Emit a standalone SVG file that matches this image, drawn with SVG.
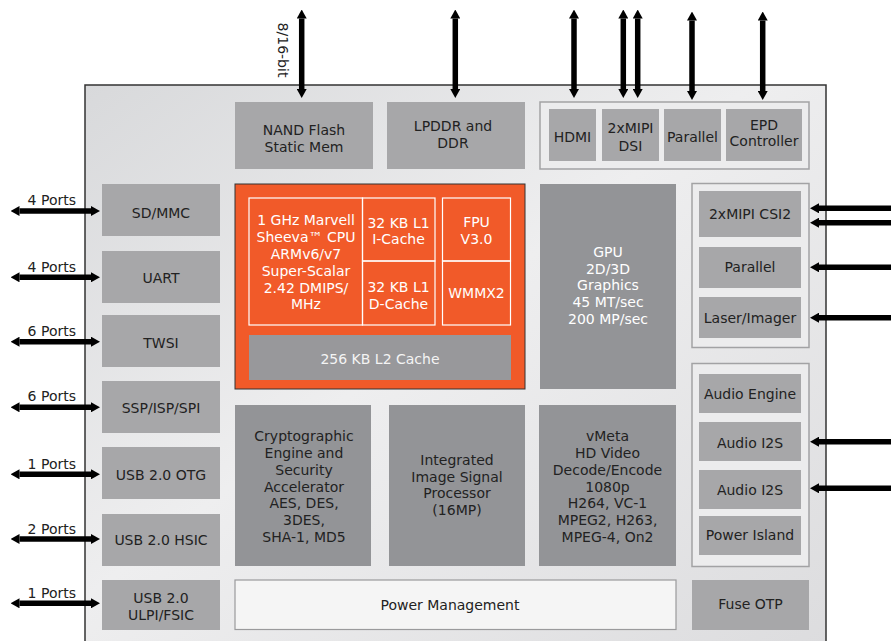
<svg xmlns="http://www.w3.org/2000/svg" width="891" height="641" viewBox="0 0 891 641">
<defs>
<linearGradient id="chipbg" x1="0" y1="0" x2="1" y2="1">
<stop offset="0" stop-color="#d8d9db"/>
<stop offset="0.45" stop-color="#eeeeef"/>
<stop offset="1" stop-color="#dcdcde"/>
</linearGradient>
<marker id="ah" viewBox="0 0 9 10" refX="0" refY="5" markerWidth="9" markerHeight="10" markerUnits="userSpaceOnUse" orient="auto-start-reverse">
<path d="M0,0 L9,5 L0,10 z" fill="#000"/>
</marker>
<style>
text{font-family:"DejaVu Sans",Verdana,sans-serif;font-size:14px;fill:#222;text-anchor:middle}
.lb{fill:#a7a7a9}
.dk{fill:#939497}
.grp{fill:#ececed;stroke:#a2a2a4;stroke-width:1.5}
.cell{fill:none;stroke:#ffffff;stroke-width:1.2}
.w{fill:#ffffff}
.lab{text-anchor:end}
.arr{stroke:#000;stroke-width:5.5;fill:none}
.a2{marker-start:url(#ah);marker-end:url(#ah)}
.a1{marker-end:url(#ah)}
</style>
</defs>
<rect width="891" height="641" fill="#ffffff"/>
<g id="chip">
<rect x="85" y="85" width="741" height="570" fill="url(#chipbg)" stroke="#333" stroke-width="1.5"/>
</g>
<g id="nand"><rect class="lb" x="235" y="102" width="138" height="67"/><text x="304" y="135">NAND Flash</text><text x="304" y="152">Static Mem</text></g>
<g id="lpddr"><rect class="lb" x="387" y="102" width="138" height="67"/><text x="453" y="131">LPDDR and</text><text x="453" y="148">DDR</text></g>
<g id="display-group"><rect class="grp" x="540" y="102" width="269" height="67"/></g>
<g id="hdmi"><rect class="lb" x="549" y="109" width="47" height="52"/><text x="572.5" y="141.5">HDMI</text></g>
<g id="dsi"><rect class="lb" x="602" y="109" width="57" height="52"/><text x="630.5" y="133">2xMIPI</text><text x="630.5" y="151">DSI</text></g>
<g id="parallel-out"><rect class="lb" x="664" y="109" width="57" height="52"/><text x="692.5" y="141.5">Parallel</text></g>
<g id="epd"><rect class="lb" x="726" y="109" width="76" height="52"/><text x="764" y="130">EPD</text><text x="764" y="145.7">Controller</text></g>
<g id="sdmmc"><rect class="lb" x="102" y="184" width="118" height="52"/><text x="161" y="218">SD/MMC</text></g>
<g id="uart"><rect class="lb" x="102" y="251" width="118" height="52"/><text x="161" y="283">UART</text></g>
<g id="twsi"><rect class="lb" x="102" y="315" width="118" height="52"/><text x="161" y="347.5">TWSI</text></g>
<g id="ssp"><rect class="lb" x="102" y="381" width="118" height="52"/><text x="161" y="412.5">SSP/ISP/SPI</text></g>
<g id="usbotg"><rect class="lb" x="102" y="447" width="118" height="52"/><text x="161" y="480">USB 2.0 OTG</text></g>
<g id="usbhsic"><rect class="lb" x="102" y="514" width="118" height="52"/><text x="161" y="545">USB 2.0 HSIC</text></g>
<g id="usbulpi"><rect class="lb" x="102" y="580" width="118" height="50"/><text x="161" y="602.5">USB 2.0</text><text x="161" y="620">ULPI/FSIC</text></g>
<g id="cpu">
<rect x="235" y="184" width="290" height="205" fill="#f15a29" stroke="#333" stroke-width="1"/>
<rect class="cell" x="249" y="198" width="113.5" height="127"/>
<rect class="cell" x="362.5" y="198" width="72.5" height="63"/>
<rect class="cell" x="362.5" y="261" width="72.5" height="64"/>
<rect class="cell" x="442.5" y="198" width="68" height="63"/>
<rect class="cell" x="442.5" y="261" width="68" height="64"/>
<text class="w" x="306" y="225">1 GHz Marvell</text>
<text class="w" x="306" y="242">Sheeva™ CPU</text>
<text class="w" x="306" y="259">ARMv6/v7</text>
<text class="w" x="306" y="276">Super-Scalar</text>
<text class="w" x="306" y="292.5">2.42 DMIPS/</text>
<text class="w" x="306" y="309">MHz</text>
<text class="w" x="398.5" y="227.5">32 KB L1</text>
<text class="w" x="398.5" y="244">I-Cache</text>
<text class="w" x="398.5" y="291.5">32 KB L1</text>
<text class="w" x="398.5" y="308.5">D-Cache</text>
<text class="w" x="476.5" y="227">FPU</text>
<text class="w" x="476.5" y="244">V3.0</text>
<text class="w" x="476.5" y="297.5">WMMX2</text>
</g>
<g id="l2cache"><rect x="249" y="335" width="262" height="45" fill="#98989b"/><text x="380" y="364" style="fill:#f4f4f4">256 KB L2 Cache</text></g>
<g id="gpu"><rect class="dk" x="540" y="184" width="136" height="205"/>
<text class="w" x="608" y="257">GPU</text><text class="w" x="608" y="273.7">2D/3D</text><text class="w" x="608" y="290.4">Graphics</text><text class="w" x="608" y="307">45 MT/sec</text><text class="w" x="608" y="323.7">200 MP/sec</text></g>
<g id="crypto"><rect class="dk" x="235" y="405" width="136" height="161"/>
<text x="304" y="440.7">Cryptographic</text><text x="304" y="457.7">Engine and</text><text x="304" y="475">Security</text><text x="304" y="491.7">Accelerator</text><text x="304" y="508.3">AES, DES,</text><text x="304" y="525">3DES,</text><text x="304" y="541.7">SHA-1, MD5</text></g>
<g id="isp"><rect class="dk" x="389" y="405" width="136" height="161"/>
<text x="457" y="465">Integrated</text><text x="457" y="481.7">Image Signal</text><text x="457" y="498.3">Processor</text><text x="457" y="515">(16MP)</text></g>
<g id="vmeta"><rect class="dk" x="539" y="405" width="137" height="161"/>
<text x="607.5" y="440.7">vMeta</text><text x="607.5" y="457.7">HD Video</text><text x="607.5" y="475">Decode/Encode</text><text x="607.5" y="491.7">1080p</text><text x="607.5" y="508.3">H264, VC-1</text><text x="607.5" y="525">MPEG2, H263,</text><text x="607.5" y="541.7">MPEG-4, On2</text></g>
<g id="powermgmt"><rect x="235" y="580" width="441" height="49.5" fill="#f5f5f5" stroke="#9a9a9c" stroke-width="1.2"/><text x="450" y="610">Power Management</text></g>
<g id="camera-group"><rect class="grp" x="692" y="183.5" width="117" height="164"/></g>
<g id="csi2"><rect class="lb" x="699" y="191" width="102" height="46"/><text x="750" y="219.3">2xMIPI CSI2</text></g>
<g id="parallel-in"><rect class="lb" x="699" y="247" width="102" height="41"/><text x="750" y="272.3">Parallel</text></g>
<g id="laser"><rect class="lb" x="699" y="297" width="102" height="41"/><text x="750" y="322.7">Laser/Imager</text></g>
<g id="audio-group"><rect class="grp" x="692" y="363.5" width="117" height="203"/></g>
<g id="audioengine"><rect class="lb" x="699" y="374" width="102" height="39"/><text x="750" y="399">Audio Engine</text></g>
<g id="i2s1"><rect class="lb" x="699" y="422" width="102" height="39"/><text x="750" y="447.7">Audio I2S</text></g>
<g id="i2s2"><rect class="lb" x="699" y="470" width="102" height="39"/><text x="750" y="495">Audio I2S</text></g>
<g id="powerisland"><rect class="lb" x="699" y="516" width="102" height="39"/><text x="750" y="540">Power Island</text></g>
<g id="fuseotp"><rect class="lb" x="692" y="580" width="117" height="50"/><text x="750.5" y="609.3">Fuse OTP</text></g>
<g id="connectors">
<line class="arr a2" x1="301.7" y1="18.5" x2="301.7" y2="89"/>
<line class="arr a2" x1="455.3" y1="18.5" x2="455.3" y2="89"/>
<line class="arr a2" x1="574" y1="18.5" x2="574" y2="89"/>
<line class="arr a2" x1="623.3" y1="18.5" x2="623.3" y2="89"/>
<line class="arr a2" x1="637.7" y1="18.5" x2="637.7" y2="89"/>
<line class="arr a2" x1="692" y1="20.5" x2="692" y2="91"/>
<line class="arr a2" x1="762.7" y1="20.5" x2="762.7" y2="91"/>
<line class="arr a2" x1="19.5" y1="211" x2="91" y2="211"/>
<line class="arr a2" x1="19.5" y1="277.3" x2="91" y2="277.3"/>
<line class="arr a2" x1="19.5" y1="341.7" x2="91" y2="341.7"/>
<line class="arr a2" x1="19.5" y1="407.3" x2="91" y2="407.3"/>
<line class="arr a2" x1="19.5" y1="474.3" x2="91" y2="474.3"/>
<line class="arr a2" x1="19.5" y1="539" x2="91" y2="539"/>
<line class="arr a2" x1="19.5" y1="603.3" x2="91" y2="603.3"/>
<line class="arr a1" x1="895" y1="208.3" x2="819" y2="208.3"/>
<line class="arr a1" x1="895" y1="222.7" x2="819" y2="222.7"/>
<line class="arr a1" x1="895" y1="267.3" x2="819" y2="267.3"/>
<line class="arr a1" x1="895" y1="317.7" x2="819" y2="317.7"/>
<line class="arr a1" x1="895" y1="441.7" x2="819" y2="441.7"/>
<line class="arr a1" x1="895" y1="488.3" x2="819" y2="488.3"/>
<text x="283" y="50" transform="rotate(90 283 50)" style="dominant-baseline:central">8/16-bit</text>
<text class="lab" x="76" y="205">4 Ports</text>
<text class="lab" x="76" y="271.7">4 Ports</text>
<text class="lab" x="76" y="336">6 Ports</text>
<text class="lab" x="76" y="401">6 Ports</text>
<text class="lab" x="76" y="469">1 Ports</text>
<text class="lab" x="76" y="534">2 Ports</text>
<text class="lab" x="76" y="597.7">1 Ports</text>
</g>
</svg>
